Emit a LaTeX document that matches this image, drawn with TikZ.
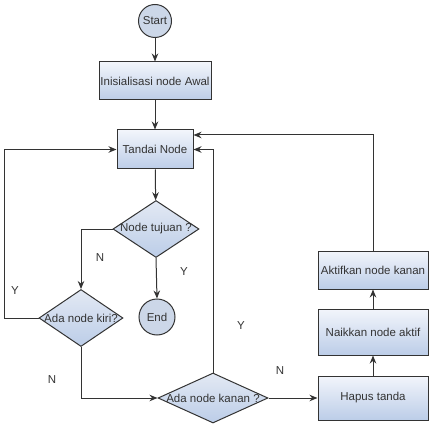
\documentclass[tikz,border=0pt]{standalone}
\usepackage{fontspec}
\setmainfont{Liberation Sans}
\usetikzlibrary{shapes.geometric,arrows.meta}

\definecolor{lineclr}{HTML}{333333}
\definecolor{filltop}{HTML}{F2F5FB}
\definecolor{fillbot}{HTML}{BCCDE8}
\definecolor{termclr}{HTML}{CCD7E8}

\tikzset{
	flow/.style={draw=lineclr, line width=1pt, text=lineclr, font=\fontsize{11.5}{13}\selectfont},
	procbox/.style={flow, rectangle, top color=filltop, bottom color=fillbot, minimum width=110pt, inner sep=0pt},
	decision/.style={flow, diamond, top color=filltop!60!termclr, bottom color=fillbot, inner sep=0pt},
	terminal/.style={flow, circle, fill=termclr, inner sep=0pt},
	arr/.style={draw=lineclr, line width=1pt, -{Stealth[length=8pt,width=6.5pt]}},
	lbl/.style={text=lineclr, font=\fontsize{11.5}{13}\selectfont}
}

\begin{document}
\begin{tikzpicture}[x=1pt,y=-1pt]
	\useasboundingbox (0,0) rectangle (434,425);
	
	% Main column
	\node[terminal, minimum size=33pt] (start) at (155,21) {Start};
	\node[procbox, minimum width=112pt, minimum height=38pt] (init) at (155,81) {\makebox[0pt]{Inisialisasi node Awal}};
	\node[procbox, minimum width=76pt, minimum height=39pt] (tandai) at (155,149.5) {Tandai Node};
	\node[decision, minimum width=86pt, minimum height=57pt] (tujuan) at (156,229) {\makebox[0pt]{Node tujuan ?}};
	\node[decision, minimum width=84pt, minimum height=57pt] (kiri) at (81,318) {\makebox[0pt]{Ada node kiri?}};
	\node[terminal, minimum size=36pt] (end) at (157,317) {End};
	\node[decision, minimum width=110pt, minimum height=50pt] (kanan) at (213,398) {\makebox[0pt]{Ada node kanan ?}};
	
	% Right column
	\node[procbox, minimum height=44pt] (hapus) at (373,398) {Hapus tanda};
	\node[procbox, minimum height=46pt] (naik) at (373,332) {Naikkan node aktif};
	\node[procbox, minimum height=38pt] (aktif) at (373,270) {\makebox[0pt]{Aktifkan node kanan}};
	
	% Connectors
	\draw[arr] (start) -- (init);
	\draw[arr] (init) -- (tandai);
	\draw[arr] (tandai) -- (tujuan);
	\draw[arr] (tujuan.west) -| (kiri.north);
	\draw[arr] (tujuan.south) -- (end.north);
	\draw[arr] (kiri.west) -- ++(-34,0) |- (tandai.west);
	\draw[arr] (kiri.south) |- (kanan.west);
	\draw[arr] (kanan.north) |- (tandai.east);
	\draw[arr] (kanan.east) -- (hapus.west);
	\draw[arr] (hapus) -- (naik);
	\draw[arr] (naik) -- (aktif);
	\draw[arr] (aktif.north) |- ([yshift=14.5pt]tandai.east);
	
	% Labels
	\node[lbl] (ntujuan) at (100,258) {N};
	\node[lbl] (ytujuan) at (184,272) {Y};
	\node[lbl] (ykiri) at (15,291) {Y};
	\node[lbl] (nkiri) at (52,380) {N};
	\node[lbl] (ykanan) at (241,326) {Y};
	\node[lbl] (nkanan) at (280,371) {N};
	
\end{tikzpicture}
\end{document}
